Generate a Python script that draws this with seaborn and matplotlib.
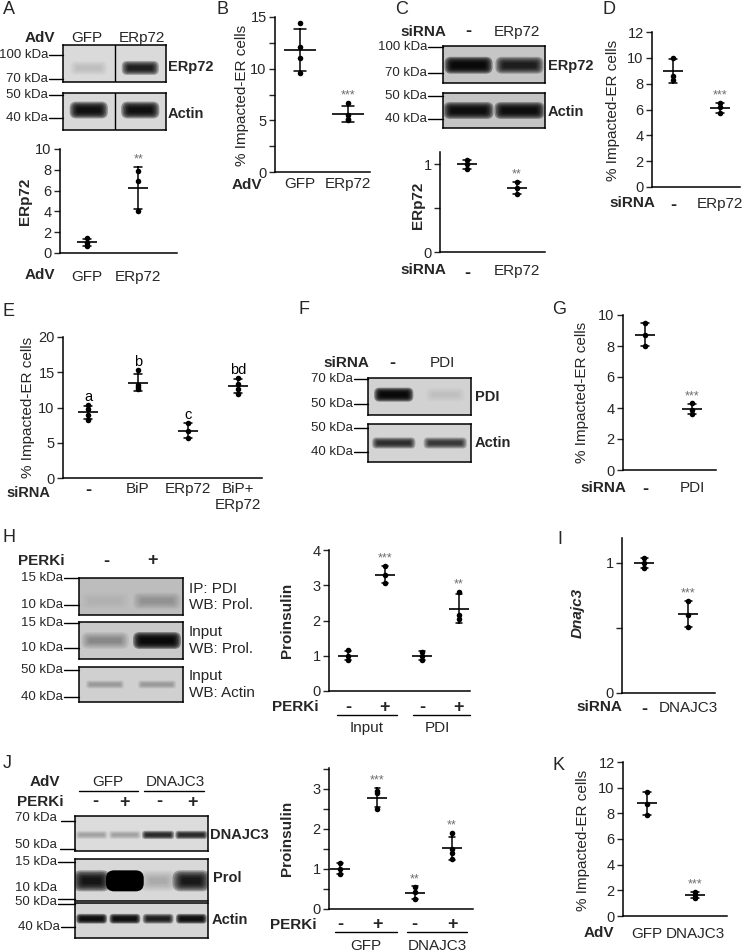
import matplotlib
matplotlib.use("Agg")
import matplotlib.pyplot as plt
from matplotlib.lines import Line2D
from matplotlib.patches import FancyBboxPatch
import numpy as np
import pandas as pd
import seaborn as sns

sns.set_style("ticks")
plt.rcParams["font.family"] = ["Liberation Sans", "DejaVu Sans"]
plt.rcParams["font.size"] = 10.5

# ---- dot plot data ----
a_groups = ["GFP", "ERp72"]
a_values = [[1.4, 1.0, 0.7], [7.9, 6.9, 4.0]]
a_marks = ["", "**"]

b_groups = ["GFP", "ERp72"]
b_values = [[14.4, 12.1, 11.0, 9.6], [6.7, 5.5, 5.1, 5.0]]
b_marks = ["", "***"]

c_groups = ["-", "ERp72"]
c_values = [[1.05, 1.0, 0.95], [0.80, 0.73, 0.66]]
c_marks = ["", "**"]

d_groups = ["-", "ERp72"]
d_values = [[10.0, 8.6, 8.3], [6.5, 6.2, 5.7]]
d_marks = ["", "***"]

e_groups = ["-", "BiP", "ERp72", "BiP+\nERp72"]
e_values = [[10.3, 9.8, 8.9, 8.2], [15.3, 13.2, 12.9, 12.6],
            [7.8, 6.6, 5.7], [14.2, 13.3, 12.6, 11.9]]
e_marks = ["a", "b", "c", "bd"]

g_groups = ["-", "PDI"]
g_values = [[9.5, 8.7, 8.0], [4.3, 3.9, 3.6]]
g_marks = ["", "***"]

h_groups = ["Input/-", "Input/+", "PDI/-", "PDI/+"]
h_ticks = ["-", "+", "-", "+"]
h_values = [[1.15, 1.0, 0.87], [3.55, 3.3, 3.05], [1.12, 1.0, 0.87], [2.8, 2.15, 2.05]]
h_marks = ["", "***", "", "**"]

i_groups = ["-", "DNAJC3"]
i_values = [[1.04, 1.0, 0.96], [0.71, 0.6, 0.51]]
i_marks = ["", "***"]

j_groups = ["GFP/-", "GFP/+", "DNAJC3/-", "DNAJC3/+"]
j_ticks = ["-", "+", "-", "+"]
j_values = [[1.14, 1.0, 0.88], [2.95, 2.9, 2.5], [0.56, 0.42, 0.25], [1.9, 1.5, 1.4, 1.25]]
j_marks = ["", "***", "**", "**"]

k_groups = ["GFP", "DNAJC3"]
k_values = [[9.7, 8.7, 7.9], [1.9, 1.65, 1.4]]
k_marks = ["", "***"]

# ---- western blot band strengths per lane (0 = none, 1 = black) ----
a_erp72_band = [0.12, 0.85]
a_actin_band = [0.92, 0.92]
c_erp72_band = [0.95, 0.85]
c_actin_band = [0.92, 0.92]
f_pdi_band = [0.95, 0.07]
f_actin_band = [0.78, 0.72]
h_ip_band = [0.05, 0.22]
h_input_band = [0.3, 0.95]
h_actin_band = [0.25, 0.25]
j_dnajc3_band = [0.25, 0.25, 0.8, 0.8]
j_prol_band = [0.9, 1.0, 0.2, 0.88]
j_actin_band = [0.92, 0.92, 0.85, 0.92]

W, H = 745, 952
fig = plt.figure(figsize=(W / 100, H / 100), dpi=100)


def px_axes(l, t, r, b):
    return fig.add_axes([l / W, 1 - b / H, (r - l) / W, (b - t) / H])


def ftext(x, y, s, **kw):
    kw.setdefault("va", "center")
    kw.setdefault("ha", "center")
    fig.text(x / W, 1 - y / H, s, **kw)


def fline(x1, y1, x2, y2, lw=1.0):
    fig.add_artist(Line2D([x1 / W, x2 / W], [1 - y1 / H, 1 - y2 / H],
                          color="black", lw=lw, transform=fig.transFigure))


def blot(box, bands, band_y, band_h, band_w=0.8, bg="#d6d6d6", split=False):
    l, t, r, b = box
    ax = px_axes(l, t, r, b)
    w, h = r - l, b - t
    lane = w / len(bands)
    ax.set_xlim(0, w)
    ax.set_ylim(h, 0)
    ax.set_facecolor(bg)
    n_layers = 6
    for i, level in enumerate(bands):
        cx = (i + 0.5) * lane
        bw = band_w * lane
        alpha = 1 - (1 - level) ** (1 / n_layers)
        step = band_h / 10
        for k in range(n_layers):
            grow = (2 - k) * step
            ww, hh = bw + 2 * grow * 1.3, band_h + 2 * grow
            ax.add_patch(FancyBboxPatch((cx - ww / 2, band_y * h - hh / 2), ww, hh,
                                        boxstyle=f"round,pad=0,rounding_size={hh / 2.6}",
                                        facecolor="black", edgecolor="none", alpha=alpha))
    if split:
        ax.axvline(w / 2, color="black", lw=1)
    ax.set_xticks([])
    ax.set_yticks([])
    for s in ax.spines.values():
        s.set_visible(True)
        s.set_linewidth(1.1)
        s.set_color("black")
    return ax


def marker(x_text, x_box, y, label, y_line=None, gap=1):
    ftext(x_text, y, label, ha="right", fontsize=9.5)
    y_line = y if y_line is None else y_line
    fline(x_text + gap, y_line, x_box, y_line)


def dot_panel(box, groups, values, ylim, yticks, xlim, ticklabels=None, marks=None,
              pad=4, minor=None, ytick_labels=None, mean_w=15, cap=0.16,
              mark_color="#6e6e6e", mark_size=9):
    ax = px_axes(*box)
    df = pd.DataFrame({
        "group": [g for g, v in zip(groups, values) for _ in v],
        "value": [x for v in values for x in v],
    })
    sns.stripplot(data=df, x="group", y="value", order=groups, jitter=False,
                  color="black", size=4, ax=ax, zorder=3)
    sns.pointplot(data=df, x="group", y="value", order=groups, errorbar="sd",
                  capsize=cap, color="black", markers="_", linestyles="none",
                  markersize=mean_w, markeredgewidth=1.2,
                  err_kws={"linewidth": 1.1}, ax=ax)
    ax.set_xlim(*xlim)
    ax.set_ylim(*ylim)
    ax.set_yticks(yticks)
    if ytick_labels is not None:
        ax.set_yticklabels(ytick_labels)
    if minor is not None:
        ax.set_yticks(minor, minor=True)
    ax.set_xlabel("")
    ax.set_ylabel("")
    ax.set_xticks(range(len(groups)))
    ax.set_xticklabels(ticklabels or groups)
    ax.tick_params(axis="x", length=0, pad=pad, labelsize=11)
    ax.tick_params(axis="y", which="both", direction="out", length=4, width=1,
                   labelsize=10.5, pad=2)
    for t in ax.get_xticklabels():
        if t.get_text() in ("-", "+"):
            t.set_fontweight("bold")
            t.set_fontsize(13)
    sns.despine(ax=ax)
    for s in ("left", "bottom"):
        ax.spines[s].set_linewidth(1.1)
        ax.spines[s].set_color("black")
    if marks:
        for i, (v, m) in enumerate(zip(values, marks)):
            if not m:
                continue
            top = max(max(v), np.mean(v) + np.std(v, ddof=1))
            ax.annotate(m, (i, top), xytext=(0, 1), textcoords="offset points",
                        ha="center", va="bottom", color=mark_color, fontsize=mark_size,
                        annotation_clip=False)
    return ax


YLAB = "% Impacted-ER cells"

# ---------------- A ----------------
ftext(3, 10, "A", ha="left", fontsize=13)
ftext(40, 38, "AdV", fontweight="bold", fontsize=11)
ftext(87, 38, "GFP", fontsize=11)
ftext(142, 38, "ERp72", fontsize=11)
blot((63, 45, 166, 82), a_erp72_band, 0.62, 10, band_w=0.62, bg="#dadada", split=True)
blot((63, 93, 166, 130), a_actin_band, 0.46, 12, band_w=0.62, bg="#d8d8d8", split=True)
marker(48, 63, 55, "100 kDa")
marker(48, 63, 79, "70 kDa")
marker(48, 63, 95, "50 kDa")
marker(48, 63, 118, "40 kDa")
ftext(168, 67, "ERp72", ha="left", fontweight="bold")
ftext(168, 114, "Actin", ha="left", fontweight="bold")
dot_panel((60, 149, 177, 253), a_groups, a_values, (0, 10), [0, 2, 4, 6, 8, 10],
          (-0.53, 1.76), marks=a_marks, pad=12)
ftext(25, 201, "ERp72", rotation=90, fontweight="bold", fontsize=11)
ftext(40, 275, "AdV", fontweight="bold", fontsize=11)

# ---------------- B ----------------
ftext(216, 10, "B", ha="left", fontsize=13)
dot_panel((275, 17, 370, 172), b_groups, b_values, (0, 15), [0, 5, 10, 15],
          (-0.52, 1.46), marks=b_marks, pad=3.6, minor=[2.5, 7.5, 12.5],
          mean_w=23, cap=0.25)
ftext(242, 95, YLAB, rotation=90, fontsize=11)
ftext(247, 185, "AdV", fontweight="bold", fontsize=11)

# ---------------- C ----------------
ftext(395, 10, "C", ha="left", fontsize=13)
ftext(423, 32, "siRNA", fontweight="bold", fontsize=11)
ftext(468, 32, "-", fontweight="bold", fontsize=13)
ftext(517, 32, "ERp72", fontsize=11)
blot((443, 46, 545, 83), c_erp72_band, 0.52, 12, band_w=0.82, bg="#c6c6c6")
blot((443, 93, 545, 128), c_actin_band, 0.5, 12, band_w=0.86, bg="#c4c4c4")
marker(427, 443, 47, "100 kDa")
marker(427, 443, 73, "70 kDa")
marker(427, 443, 96, "50 kDa")
marker(427, 443, 119, "40 kDa")
ftext(548, 66, "ERp72", ha="left", fontweight="bold")
ftext(548, 112, "Actin", ha="left", fontweight="bold")
dot_panel((440, 152, 545, 252), c_groups, c_values, (0, 1.14), [0, 0.5, 1],
          (-0.54, 1.56), marks=c_marks, pad=9, ytick_labels=["0", "", "1"])
ftext(418, 205, "ERp72", rotation=90, fontweight="bold", fontsize=11)
ftext(423, 270, "siRNA", fontweight="bold", fontsize=11)

# ---------------- D ----------------
ftext(603, 10, "D", ha="left", fontsize=13)
dot_panel((652, 32, 740, 187), d_groups, d_values, (0, 12), list(range(0, 13, 2)),
          (-0.45, 1.43), marks=d_marks, pad=7)
ftext(613, 110, YLAB, rotation=90, fontsize=11)
ftext(632, 203, "siRNA", fontweight="bold", fontsize=11)

# ---------------- E ----------------
ftext(3, 312, "E", ha="left", fontsize=13)
dot_panel((63, 337, 262, 478), e_groups, e_values, (0, 20), [0, 5, 10, 15, 20],
          (-0.5, 3.48), marks=e_marks, pad=3, mark_color="black", mark_size=10.5)
ftext(28, 407, YLAB, rotation=90, fontsize=11)
ftext(28, 493, "siRNA", fontweight="bold", fontsize=10.5)

# ---------------- F ----------------
ftext(298, 309, "F", ha="left", fontsize=13)
ftext(346, 363, "siRNA", fontweight="bold", fontsize=11)
ftext(392, 363, "-", fontweight="bold", fontsize=13)
ftext(442, 363, "PDI", fontsize=11)
blot((368, 378, 471, 415), f_pdi_band, 0.45, 10, band_w=0.66, bg="#d2d2d2")
blot((368, 424, 471, 462), f_actin_band, 0.5, 8, band_w=0.76, bg="#d4d4d4")
marker(353, 368, 379, "70 kDa")
marker(353, 368, 404, "50 kDa")
marker(353, 368, 428, "50 kDa")
marker(353, 368, 452, "40 kDa")
ftext(475, 397, "PDI", ha="left", fontweight="bold")
ftext(475, 443, "Actin", ha="left", fontweight="bold")

# ---------------- G ----------------
ftext(552, 310, "G", ha="left", fontsize=13)
dot_panel((623, 315, 716, 470), g_groups, g_values, (0, 10), list(range(0, 11, 2)),
          (-0.47, 1.51), marks=g_marks, pad=8)
ftext(582, 392, YLAB, rotation=90, fontsize=11)
ftext(603, 488, "siRNA", fontweight="bold", fontsize=11)

# ---------------- H ----------------
ftext(3, 538, "H", ha="left", fontsize=13)
ftext(41, 561, "PERKi", fontweight="bold", fontsize=11)
ftext(106, 561, "-", fontweight="bold", fontsize=13)
ftext(153, 561, "+", fontweight="bold", fontsize=13)
blot((79, 578, 183, 615), h_ip_band, 0.62, 12, band_w=0.8, bg="#bdbdbd")
blot((79, 622, 183, 659), h_input_band, 0.5, 12, band_w=0.8, bg="#c9c9c9")
blot((79, 667, 183, 702), h_actin_band, 0.5, 6, band_w=0.68, bg="#d0d0d0")
marker(63, 79, 578, "15 kDa")
marker(63, 79, 605, "10 kDa")
marker(63, 79, 623, "15 kDa")
marker(63, 79, 648, "10 kDa")
marker(63, 79, 670, "50 kDa")
marker(63, 79, 697, "40 kDa")
for y, s in [(589, "IP: PDI"), (605, "WB: Prol."), (632, "Input"), (649, "WB: Prol."),
             (676, "Input"), (693, "WB: Actin")]:
    ftext(189, y, s, ha="left", fontsize=11)
dot_panel((329, 550, 470, 691), h_groups, h_values, (0, 4), [0, 1, 2, 3, 4],
          (-0.51, 3.3), ticklabels=h_ticks, marks=h_marks, pad=6)
ftext(287, 620, "Proinsulin", rotation=90, fontweight="bold", fontsize=11)
ftext(295, 707, "PERKi", fontweight="bold", fontsize=11)
fline(337, 715, 397, 715)
fline(413, 715, 470, 715)
ftext(367, 728, "Input", fontsize=11)
ftext(437, 728, "PDI", fontsize=11)

# ---------------- I ----------------
ftext(557, 540, "I", ha="left", fontsize=13)
dot_panel((622, 538, 715, 693), i_groups, i_values, (0, 1.19), [0, 0.5, 1],
          (-0.5, 1.61), marks=i_marks, pad=6, ytick_labels=["0", "", "1"])
ftext(578, 613, "Dnajc3", rotation=90, fontweight="bold", style="italic", fontsize=11)
ftext(599, 707, "siRNA", fontweight="bold", fontsize=11)

# ---------------- J ----------------
ftext(3, 763, "J", ha="left", fontsize=13)
ftext(45, 782, "AdV", fontweight="bold", fontsize=11)
ftext(108, 782, "GFP", fontsize=11)
ftext(175, 782, "DNAJC3", fontsize=11)
fline(79, 791, 138, 791)
fline(144, 791, 204, 791)
ftext(40, 802, "PERKi", fontweight="bold", fontsize=11)
for x, s in zip([95, 125, 159, 192], j_ticks):
    ftext(x, 802, s, fontweight="bold", fontsize=13)
blot((75, 816, 208, 851), j_dnajc3_band, 0.54, 6, band_w=0.88, bg="#dcdcdc")
blot((75, 859, 208, 901), j_prol_band, 0.52, 15, band_w=0.9, bg="#d8d8d8")
blot((75, 903, 208, 938), j_actin_band, 0.45, 7, band_w=0.82, bg="#d6d6d6")
marker(57, 75, 818, "70 kDa", y_line=821, gap=4)
marker(57, 75, 845, "50 kDa", y_line=849, gap=3)
marker(57, 75, 862, "15 kDa")
marker(57, 75, 888, "10 kDa", y_line=899)
marker(57, 75, 902, "50 kDa", y_line=904)
marker(60, 75, 927, "40 kDa")
ftext(210, 835, "DNAJC3", ha="left", fontweight="bold")
ftext(213, 878, "Prol", ha="left", fontweight="bold")
ftext(212, 920, "Actin", ha="left", fontweight="bold")
dot_panel((329, 768, 473, 909), j_groups, j_values, (0, 3.52), [0, 1, 2, 3],
          (-0.3, 3.56), ticklabels=j_ticks, marks=j_marks, pad=5,
          minor=[0.5, 1.5, 2.5, 3.5])
ftext(287, 838, "Proinsulin", rotation=90, fontweight="bold", fontsize=11)
ftext(293, 925, "PERKi", fontweight="bold", fontsize=11)
fline(335, 932, 397, 932)
fline(407, 932, 467, 932)
ftext(366, 946, "GFP", fontsize=11)
ftext(437, 946, "DNAJC3", fontsize=11)

# ---------------- K ----------------
ftext(552, 765, "K", ha="left", fontsize=13)
dot_panel((623, 762, 727, 916), k_groups, k_values, (0, 12), list(range(0, 13, 2)),
          (-0.5, 1.67), marks=k_marks, pad=8)
ftext(583, 840, YLAB, rotation=90, fontsize=11)
ftext(599, 933, "AdV", fontweight="bold", fontsize=11)

fig.savefig("out.png", dpi=100)
